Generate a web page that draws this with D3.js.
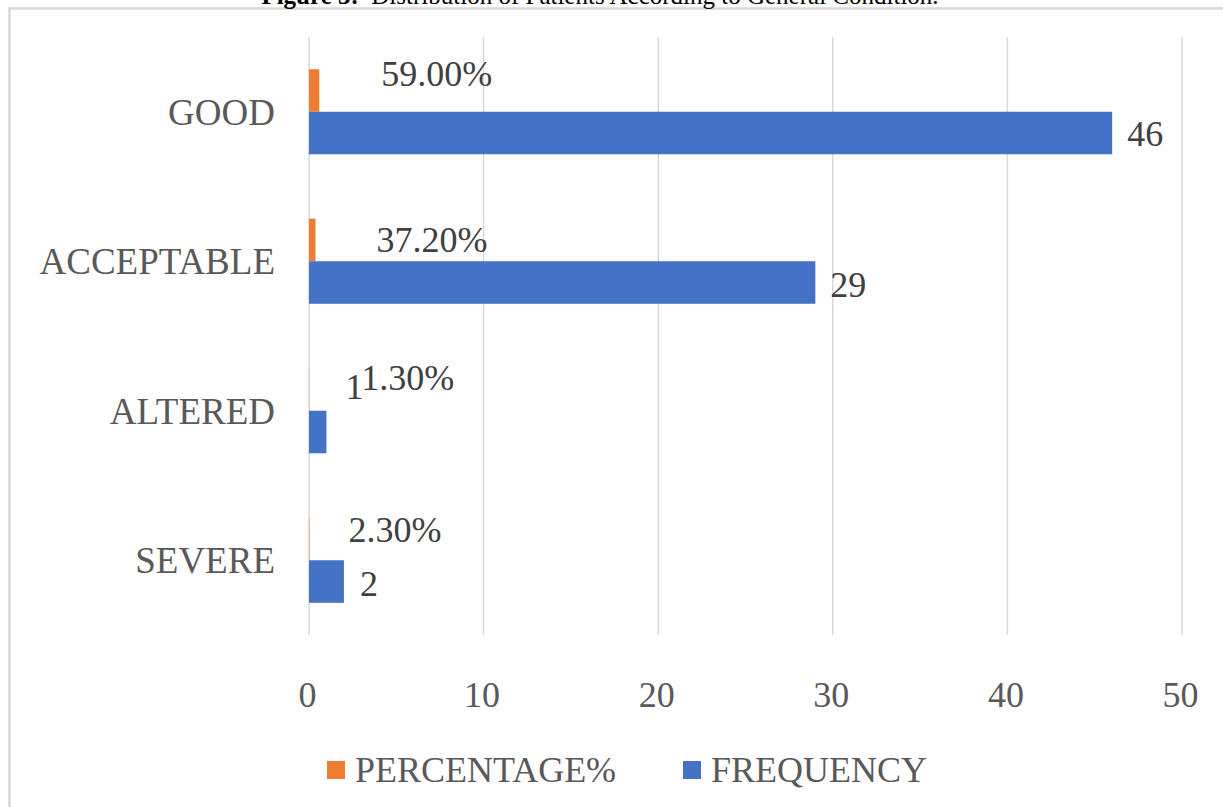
<!DOCTYPE html>
<html>
<head>
<meta charset="utf-8">
<script src="https://cdn.jsdelivr.net/npm/d3@7"></script>
<style>
  html, body { margin: 0; padding: 0; background: #ffffff; }
  svg { display: block; }
  text { font-family: "Liberation Serif", "Times New Roman", serif; }
</style>
</head>
<body>
<svg id="chart" width="1223" height="807"></svg>
<script>
// General condition of patients: frequency and share of each category
const categories = ["GOOD", "ACCEPTABLE", "ALTERED", "SEVERE"];
const frequency = [46, 29, 1, 2];
const percentage = [0.59, 0.372, 0.013, 0.023];
const xTicks = [0, 10, 20, 30, 40, 50];
const seriesNames = ["PERCENTAGE%", "FREQUENCY"];

// Hand-placed data label nudges (pixels) relative to the bar end
const pctLabelNudge = [[47, -16], [46, 0], [37, -11], [24, -9]];
const freqLabelNudge = [[0, 1], [0, 2], [4, -45], [1, 2]];

const W = 1223, H = 807;
const colors = { pct: "#ED7D31", freq: "#4472C4" };
const svg = d3.select("#chart");

// Chart frame (only its top and left edges fall inside the view)
svg.append("rect")
  .attr("x", 9.5).attr("y", 8.5)
  .attr("width", W + 20).attr("height", H + 20)
  .attr("fill", "#ffffff")
  .attr("stroke", "#d9d9d9").attr("stroke-width", 2.5);

// Figure caption sitting above the frame
const cap = svg.append("text")
  .attr("x", 600).attr("y", 4)
  .attr("text-anchor", "middle")
  .attr("font-size", 25).attr("fill", "#000");
cap.append("tspan").attr("font-weight", "bold").text("Figure 3:");
cap.append("tspan").text("\u00a0 Distribution of Patients According to General Condition.");

const plot = { left: 309, right: 1182, top: 37, bottom: 635 };

const x = d3.scaleLinear().domain([0, 50]).range([plot.left, plot.right]);
const y = d3.scaleBand().domain(categories)
  .range([plot.top, plot.bottom])
  .paddingInner(0.431).paddingOuter(0.2155);
const sub = d3.scaleBand().domain(["pct", "freq"]).range([0, y.bandwidth()]);

// Vertical gridlines
svg.append("g")
  .selectAll("line")
  .data(xTicks)
  .join("line")
  .attr("x1", d => x(d)).attr("x2", d => x(d))
  .attr("y1", plot.top).attr("y2", plot.bottom)
  .attr("stroke", "#d9d9d9").attr("stroke-width", 1.5);

// X axis tick labels
const xAxis = d3.axisBottom(x).tickValues(xTicks).tickSize(0).tickPadding(0).tickFormat(d3.format("d"));
const gx = svg.append("g").attr("transform", `translate(0,${plot.bottom + 72})`).call(xAxis);
gx.select(".domain").remove();
gx.selectAll("text")
  .attr("dy", 0)
  .attr("x", -2)
  .attr("font-family", "'Liberation Serif', 'Times New Roman', serif")
  .attr("font-size", 36).attr("fill", "#595959");

// Category labels
const yAxis = d3.axisLeft(y).tickSize(0).tickPadding(0);
const gy = svg.append("g").attr("transform", `translate(${plot.left - 34},0)`).call(yAxis);
gy.select(".domain").remove();
gy.selectAll("text")
  .attr("dy", 13)
  .attr("font-family", "'Liberation Serif', 'Times New Roman', serif")
  .attr("font-size", 37).attr("fill", "#595959");

const rows = categories.map((c, i) => ({ c, i, f: frequency[i], p: percentage[i] }));

// Percentage bars
svg.append("g").selectAll("rect")
  .data(rows).join("rect")
  .attr("x", x(0))
  .attr("y", d => y(d.c) + sub("pct"))
  .attr("width", d => x(d.p) - x(0))
  .attr("height", sub.bandwidth())
  .attr("fill", colors.pct);

// Frequency bars
svg.append("g").selectAll("rect")
  .data(rows).join("rect")
  .attr("x", x(0))
  .attr("y", d => y(d.c) + sub("freq"))
  .attr("width", d => x(d.f) - x(0))
  .attr("height", sub.bandwidth())
  .attr("fill", colors.freq);

// Data labels
const labelGap = 15;
svg.append("g").selectAll("text")
  .data(rows).join("text")
  .attr("x", d => x(d.p) + labelGap + pctLabelNudge[d.i][0])
  .attr("y", d => y(d.c) + sub("pct") + sub.bandwidth() / 2 + 12 + pctLabelNudge[d.i][1])
  .attr("font-size", 36).attr("fill", "#404040")
  .text(d => d3.format(".2%")(d.p));

svg.append("g").selectAll("text")
  .data(rows).join("text")
  .attr("x", d => x(d.f) + labelGap + freqLabelNudge[d.i][0])
  .attr("y", d => y(d.c) + sub("freq") + sub.bandwidth() / 2 + 12 + freqLabelNudge[d.i][1])
  .attr("font-size", 36).attr("fill", "#404040")
  .text(d => d3.format("d")(d.f));

// Legend
const legendItems = [
  { name: seriesNames[0], color: colors.pct, x: 327 },
  { name: seriesNames[1], color: colors.freq, x: 683 }
];
const lg = svg.append("g").selectAll("g").data(legendItems).join("g")
  .attr("transform", d => `translate(${d.x},761)`);
lg.append("rect").attr("width", 18).attr("height", 18).attr("fill", d => d.color);
lg.append("text").attr("x", 28).attr("y", 21)
  .attr("font-size", 36).attr("fill", "#595959")
  .text(d => d.name);
</script>
</body>
</html>
